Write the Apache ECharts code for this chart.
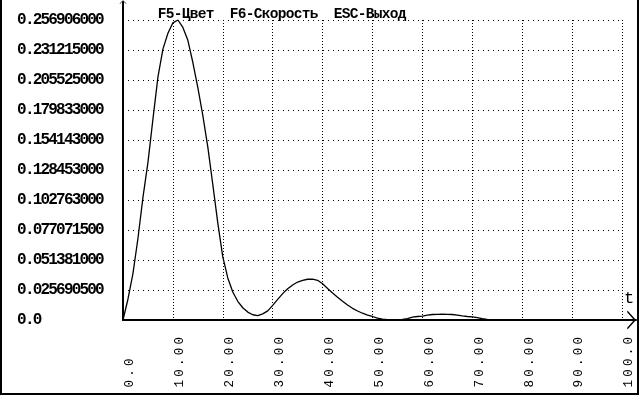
<!DOCTYPE html>
<html><head><meta charset="utf-8">
<script src="https://cdn.jsdelivr.net/npm/echarts@6/dist/echarts.min.js"></script>
<style>html,body{margin:0;padding:0;background:#fff}#c{width:640px;height:396px}</style>
</head><body><div id="c"></div>
<script>
var titleText = 'F5-Цвет  F6-Скорость  ESC-Выход';
var axisName = 't';
var tValues = [0,1,2,3,4,5,6,7,8,9,10,11,12,13,14,15,16,17,18,19,20,21,22,23,24,25,26,27,28,29,30,31,32,33,34,35,36,37,38,39,40,41,42,43,44,45,46,47,48,49,50,51,52,53,54,55,56,57,58,59,60,61,62,63,64,65,66,67,68,69,70,71,72,73,74,75,76];
var vValues = [0,0.018,0.040,0.070,0.105,0.135,0.172,0.208,0.232,0.2455,0.2545,0.2569,0.2505,0.2395,0.2205,0.1990,0.1750,0.1480,0.1160,0.0830,0.0540,0.0360,0.0240,0.0160,0.0105,0.0068,0.0045,0.0038,0.0052,0.0078,0.0125,0.0177,0.0226,0.0268,0.0300,0.0325,0.0340,0.0349,0.0350,0.0340,0.0310,0.0270,0.0232,0.0195,0.0160,0.0128,0.0100,0.0077,0.0058,0.0042,0.0030,0.0016,0.0007,0.0004,0.0003,0.0003,0.0005,0.0012,0.0024,0.0030,0.0034,0.0042,0.0047,0.0049,0.0050,0.0049,0.0047,0.0042,0.0035,0.0030,0.0027,0.0020,0.0011,0.0006,0.0004,0.0003,0.0003];
var xTickLabels = ['0.0','10.00','20.00','30.00','40.00','50.00','60.00','70.00','80.00','90.00','100.0'];
var yTickLabels = ['0.0','0.025690500','0.051381000','0.077071500','0.102763000','0.128453000','0.154143000','0.179833000','0.205525000','0.231215000','0.256906000'];
var xMax = 100, xStep = 10;
var yMax = 0.256906, yStep = 0.0256906;

function perChar(s, key){ return s.split('').map(function(c){return c===' ' ? '{'+key+'|\u00a0}' : '{'+key+'|'+c+'}';}).join(''); }
var data = tValues.map(function(t,i){return [t, vValues[i]];});
var MONO = '"Liberation Mono","DejaVu Sans Mono",monospace';

var chart = echarts.init(document.getElementById('c'), null, {renderer:'canvas'});
chart.setOption({
  animation:false,
  backgroundColor:'#fff',
  title:{text:perChar(titleText,'t'),left:153,top:2,
    textStyle:{rich:{t:{width:8,align:'center',fontFamily:MONO,fontSize:14.5,fontWeight:'bold',color:'#000'}}}},
  grid:[
    {left:123,right:18,top:20,bottom:76},
    {left:123,right:4,top:2,bottom:76}
  ],
  xAxis:[
    {type:'value',gridIndex:0,min:0,max:xMax,interval:xStep,
     axisLine:{show:false},axisTick:{show:false},
     splitLine:{show:true,lineStyle:{color:'#000',width:1,type:[1,2]}},
     axisLabel:{show:true,rotate:90,align:'left',verticalAlign:'top',margin:69,lineHeight:14,
       formatter:function(v){return perChar(xTickLabels[Math.round(v/xStep)]||'','x');},
       rich:{x:{width:10.7,align:'center',fontFamily:MONO,fontSize:12.5,color:'#000',lineHeight:14}}}},
    {type:'value',gridIndex:1,min:0,max:1,
     axisLine:{show:true,lineStyle:{color:'#000',width:2},
       symbol:['none','path://M10,0 L20,9 L18.6,9.8 L10,2.2 L1.4,9.8 L0,9 Z'],symbolSize:[20,9],symbolOffset:[0,-4.5]},
     axisTick:{show:false},axisLabel:{show:false},splitLine:{show:false},
     name:axisName,nameLocation:'end',nameGap:-7,
     nameTextStyle:{fontFamily:MONO,fontSize:17,color:'#000',align:'center',verticalAlign:'bottom',padding:[0,0,13,0]}}
  ],
  yAxis:[
    {type:'value',gridIndex:0,min:0,max:yMax,interval:yStep,
     axisLine:{show:false},axisTick:{show:false},
     splitLine:{show:true,lineStyle:{color:'#000',width:1,type:[1,4]}},
     axisLabel:{show:true,align:'left',margin:105,
       formatter:function(v){return perChar(yTickLabels[Math.round(v/yStep)]||'','y');},
       rich:{y:{width:7.8,align:'center',fontFamily:MONO,fontSize:16,fontWeight:'bold',color:'#000'}}}},
    {type:'value',gridIndex:1,min:0,max:1,
     axisLine:{show:true,lineStyle:{color:'#000',width:2},
       symbol:['none','path://M10,0 L20,9 L18.6,9.8 L10,2.2 L1.4,9.8 L0,9 Z'],symbolSize:[7,4],symbolOffset:[0,0]},
     axisTick:{show:false},axisLabel:{show:false},splitLine:{show:false}}
  ],
  series:[{type:'line',xAxisIndex:0,yAxisIndex:0,data:data,showSymbol:false,smooth:false,
    lineStyle:{color:'#000',width:1.3},z:5}],
  graphic:[{type:'rect',shape:{x:1,y:-10,width:637,height:404},style:{fill:'none',stroke:'#000',lineWidth:2},silent:true}]
});
</script></body></html>
